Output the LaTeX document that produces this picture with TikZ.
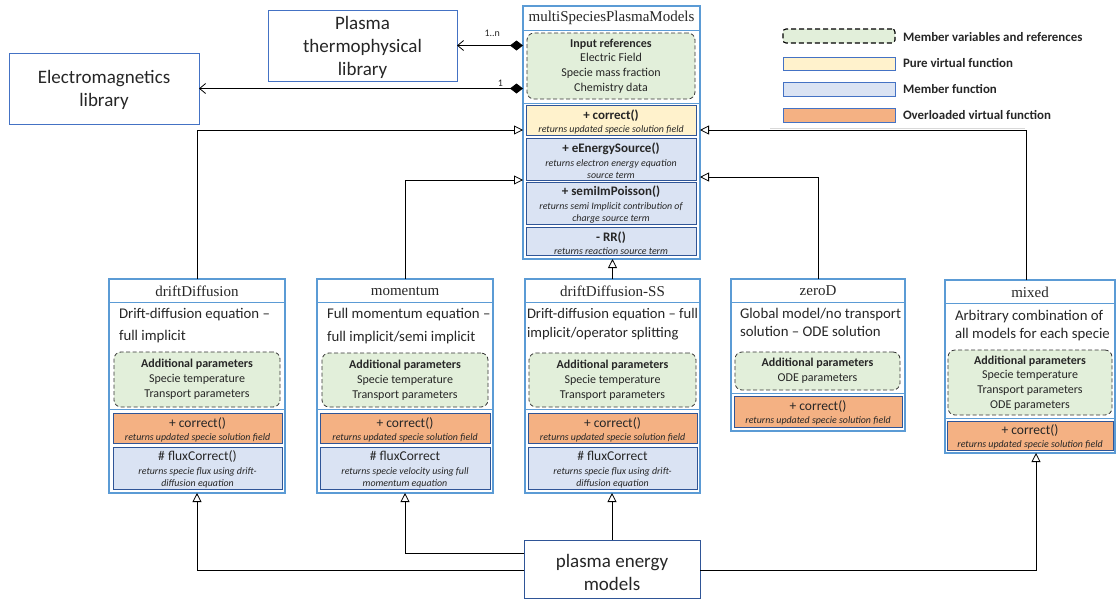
\documentclass[tikz,border=0pt]{standalone}
\usepackage{fontspec}
\setmainfont{Carlito}
\newfontfamily\titlefont{Liberation Serif}
\usetikzlibrary{arrows.meta,fit}
\definecolor{cgreen}{HTML}{E2EFDA}
\definecolor{cyellow}{HTML}{FFF2CC}
\definecolor{cblue}{HTML}{DAE3F3}
\definecolor{corange}{HTML}{F4B183}
\definecolor{cframe}{HTML}{5B9BD5}
\definecolor{cdark}{HTML}{2F5597}
\definecolor{clib}{HTML}{4472C4}
\definecolor{ctext}{HTML}{262626}
\newcommand\fdesc{\mdseries\itshape\fontsize{9.9}{12}\selectfont}
\begin{document}
\begin{tikzpicture}[x=1pt,y=-1pt,
  every node/.style={inner sep=0pt, outer sep=0pt, text=ctext},
  frame/.style={draw=cframe, line width=1.6pt, fit={#1}},
  sepline/.style={draw=cframe, line width=1pt},
  ctitle/.style={font=\titlefont\fontsize{15}{17}\selectfont},
  cdesc/.style={anchor=north west, align=left},
  member/.style={draw=black!80, dashed, dash pattern=on 4pt off 2.5pt, rounded corners=7pt,
     fill=cgreen, line width=0.8pt, fit={#1}},
  membert/.style={align=center, font=\fontsize{12}{14.8}\selectfont},
  fn/.style={draw=cdark, line width=0.9pt, fit={#1}},
  fnt/.style={align=center, font=\fontsize{13.5}{14}\selectfont},
  fntb/.style={align=center, font=\bfseries\fontsize{13}{14}\selectfont},
  lib/.style={draw=clib, line width=0.9pt, fit={#1}},
  libt/.style={align=center, font=\fontsize{19}{23}\selectfont},
  legbox/.style={draw=clib, line width=0.9pt, fit={#1}},
  legtext/.style={anchor=west, font=\bfseries\fontsize{12.9}{14}\selectfont},
  inh/.style={draw=black, line width=0.8pt, -{Triangle[open, length=9pt, width=9pt]}},
  assoc/.style={draw=black, line width=0.8pt, {Diamond[length=13pt, width=10pt]}-{Straight Barb[length=6pt, width=10pt]}},
  mult/.style={font=\fontsize{10}{11}\selectfont}
]
\useasboundingbox (0,0) rectangle (1117,600);

% ---------- libraries ----------
\node[lib={(268,10) (457,81)}] (plib) {};
\node[libt] (plibt) at (362.5,47) {Plasma\\thermophysical\\library};
\node[lib={(9,53) (199,124)}] (emlib) {};
\node[libt] (emlibt) at (104,90) {Electromagnetics\\library};

% ---------- multiSpeciesPlasmaModels ----------
\node[frame={(523,6) (700,259)}] (msp) {};
\node[ctitle] (msptitle) at (611.5,18) {multiSpeciesPlasmaModels};
\draw[sepline] (523,30) -- (700,30);
\node[member={(527,33) (695,99)}] (inref) {};
\node[membert] (inreft) at (611,66) {\textbf{Input references}\\Electric Field\\Specie mass fraction\\Chemistry data};
\draw[sepline] (523,103) -- (700,103);
\node[fn={(526,105) (696,135)}, fill=cyellow] (mcorr) {};
\node[fntb] (mcorrt) at (611,121.5) {+ correct()\\[-1pt]\fdesc returns updated specie solution field};
\node[fn={(526,138) (696,180)}, fill=cblue] (meng) {};
\node[fntb] (mengt) at (611,160.5) {+ eEnergySource()\\\fdesc returns electron energy equation\\[-2pt]\fdesc source term};
\node[fn={(526,182) (696,224)}, fill=cblue] (mpois) {};
\node[fntb] (mpoist) at (611,205) {+ semiImPoisson()\\\fdesc returns semi Implicit contribution of\\[-2pt]\fdesc charge source term};
\node[fn={(526,227) (696,255)}, fill=cblue] (mrr) {};
\node[fntb] (mrrt) at (611,243) {- RR()\\[-1pt]\fdesc returns reaction source term};

% ---------- associations ----------
\draw[assoc] (msp.west |- plib.east) -- (plib.east);
\draw[assoc] (msp.west |- emlib.east) -- (emlib.east);
\node[mult, anchor=south east] (m1) at (500,37) {1..n};
\node[mult, anchor=south east] (m2) at (503,86) {1};

% ---------- legend ----------
\node[legbox={(783,29) (895,43)}, draw=black, dashed, dash pattern=on 5pt off 3pt, rounded corners=3pt, fill=cgreen, line width=1.1pt] (lg1) {};
\node[legbox={(783,57) (895,70)}, fill=cyellow] (lg2) {};
\node[legbox={(783,82) (895,96)}, fill=cblue] (lg3) {};
\node[legbox={(783,108) (895,122)}, fill=corange] (lg4) {};
\node[legtext] (lgt1) at (903,37) {Member variables and references};
\node[legtext] (lgt2) at (903,63) {Pure virtual function};
\node[legtext] (lgt3) at (903,89) {Member function};
\node[legtext] (lgt4) at (903,115) {Overloaded virtual function};
\draw[black!15, line width=0.8pt] (770,128) -- (1025,128);

% ---------- driftDiffusion ----------
\node[frame={(109,279) (285,493)}] (dD) {};
\node[ctitle] (dDt) at (197,291) {driftDiffusion};
\draw[sepline] (109,302) -- (285,302);
\node[cdesc, font=\fontsize{14.8}{22}\selectfont] (dDd) at (119,308) {Drift-diffusion equation –\\full implicit};
\node[member={(114,352) (280,407)}] (dDm) {};
\node[membert] (dDmt) at (197,379) {\textbf{Additional parameters}\\Specie temperature\\Transport parameters};
\draw[sepline] (109,409) -- (285,409);
\node[fn={(113,413) (282,443)}, fill=corange] (dDc) {};
\node[fnt] (dDct) at (197.5,429.5) {+ correct()\\[-1pt]\fdesc returns updated specie solution field};
\node[fn={(113,447) (282,489)}, fill=cblue] (dDf) {};
\node[fnt] (dDft) at (197.5,469.5) {\# fluxCorrect()\\\fdesc returns specie flux using drift-\\[-2pt]\fdesc diffusion equation};

% ---------- momentum ----------
\node[frame={(317,279) (493,493)}] (mom) {};
\node[ctitle] (momt) at (405,291) {momentum};
\draw[sepline] (317,302) -- (493,302);
\node[cdesc, font=\fontsize{14.8}{23}\selectfont] (momd) at (327,308) {Full momentum equation –\\full implicit/semi implicit};
\node[member={(322,353) (488,407)}] (momm) {};
\node[membert] (mommt) at (405,380) {\textbf{Additional parameters}\\Specie temperature\\Transport parameters};
\draw[sepline] (317,409) -- (493,409);
\node[fn={(320,413) (490,443)}, fill=corange] (momc) {};
\node[fnt] (momct) at (405,429.5) {+ correct()\\[-1pt]\fdesc returns updated specie solution field};
\node[fn={(320,447) (490,489)}, fill=cblue] (momf) {};
\node[fnt] (momft) at (405,469.5) {\# fluxCorrect\\\fdesc returns specie velocity using full\\[-2pt]\fdesc momentum equation};

% ---------- driftDiffusion-SS ----------
\node[frame={(525,279) (700,493)}] (SS) {};
\node[ctitle] (SSt) at (612.5,291) {driftDiffusion-SS};
\draw[sepline] (525,302) -- (700,302);
\node[cdesc, font=\fontsize{14.6}{19.5}\selectfont] (SSd) at (527,308) {Drift-diffusion equation – full\\implicit/operator splitting};
\node[member={(529,353) (696,407)}] (SSm) {};
\node[membert] (SSmt) at (612.5,380) {\textbf{Additional parameters}\\Specie temperature\\Transport parameters};
\draw[sepline] (525,409) -- (700,409);
\node[fn={(528,413) (697,443)}, fill=corange] (SSc) {};
\node[fnt] (SSct) at (612.5,429.5) {+ correct()\\[-1pt]\fdesc returns updated specie solution field};
\node[fn={(528,447) (697,489)}, fill=cblue] (SSf) {};
\node[fnt] (SSft) at (612.5,469.5) {\# fluxCorrect\\\fdesc returns specie flux using drift-\\[-2pt]\fdesc diffusion equation};

% ---------- zeroD ----------
\node[frame={(731,279) (905,431)}] (zD) {};
\node[ctitle] (zDt) at (818,291) {zeroD};
\draw[sepline] (731,302) -- (905,302);
\node[cdesc, font=\fontsize{14.8}{18.5}\selectfont] (zDd) at (740,308) {Global model/no transport\\solution – ODE solution};
\node[member={(735,352) (900,390)}] (zDm) {};
\node[membert] (zDmt) at (817.5,371) {\textbf{Additional parameters}\\ODE parameters};
\draw[sepline] (731,393) -- (905,393);
\node[fn={(734,396) (902,427)}, fill=corange] (zDc) {};
\node[fnt] (zDct) at (818,413) {+ correct()\\[-1pt]\fdesc returns updated specie solution field};

% ---------- mixed ----------
\node[frame={(945,280) (1115,453)}] (mix) {};
\node[ctitle] (mixt) at (1030,292) {mixed};
\draw[sepline] (945,303) -- (1115,303);
\node[cdesc, font=\fontsize{14.8}{18.5}\selectfont] (mixd) at (955,310) {Arbitrary combination of\\all models for each specie};
\node[member={(948,350) (1112,415)}] (mixm) {};
\node[membert] (mixmt) at (1030,383) {\textbf{Additional parameters}\\Specie temperature\\Transport parameters\\ODE parameters};
\draw[sepline] (945,418) -- (1115,418);
\node[fn={(947,421) (1113,450)}, fill=corange] (mixc) {};
\node[fnt] (mixct) at (1030,437) {+ correct()\\[-1pt]\fdesc returns updated specie solution field};

% ---------- plasma energy models ----------
\node[lib={(524,540) (700,598)}, draw=cdark] (pem) {};
\node[libt] (pemt) at (612,572) {plasma energy\\models};

% ---------- inheritance (top) ----------
\draw[inh] (dD.north) |- (msp.west |- 0,130);
\draw[inh] (mom.north) |- (msp.west |- 0,180);
\draw[inh] (SS.north) -- (SS.north |- msp.south);
\draw[inh] (zD.north) |- (msp.east |- 0,177);
\draw[inh] ([xshift=-4pt]mix.north) |- (msp.east |- 0,130);

% ---------- inheritance (bottom) ----------
\draw[inh] (pem.west |- 0,570) -| (dD.south);
\draw[inh] (pem.west |- 0,553) -| (mom.south);
\draw[inh] (pem.north) -- (pem.north |- SS.south);
\draw[inh] (pem.east |- 0,570) -| ([xshift=6pt]mix.south);
\end{tikzpicture}
\end{document}
